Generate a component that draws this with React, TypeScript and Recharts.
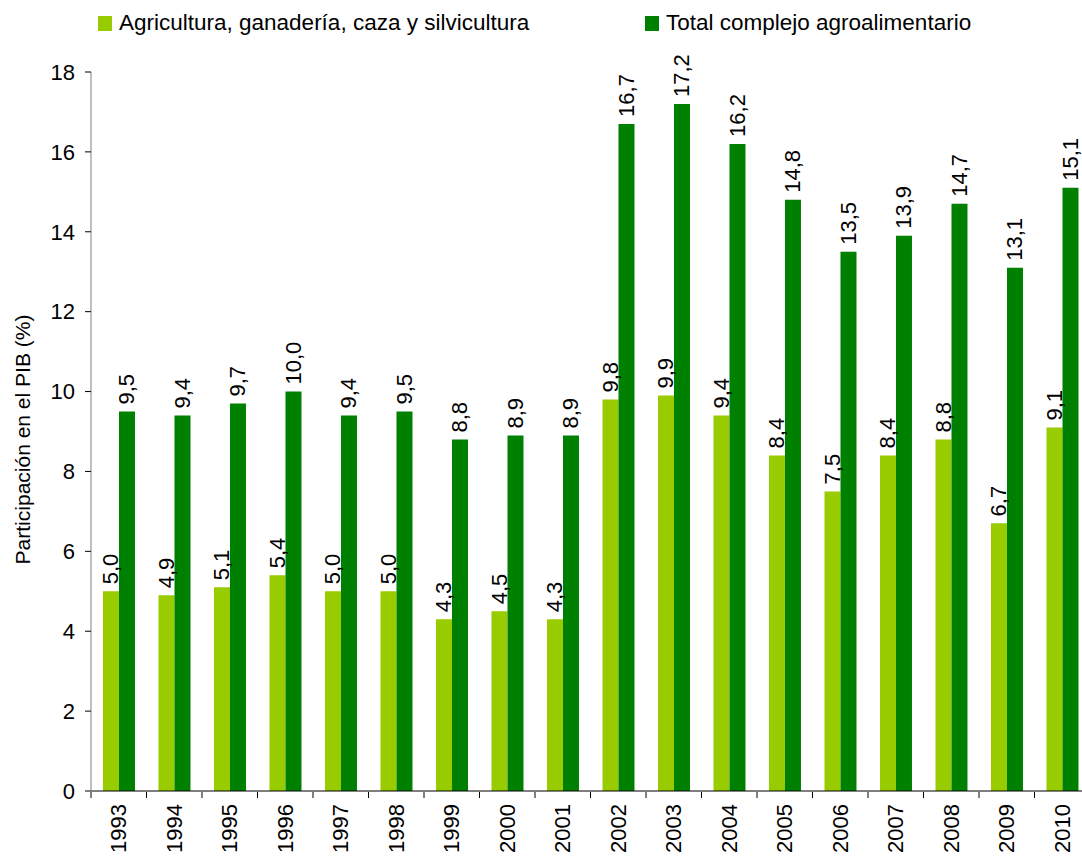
import { BarChart, Bar, XAxis, YAxis, LabelList } from "recharts";

const years = ["1993", "1994", "1995", "1996", "1997", "1998", "1999", "2000", "2001", "2002", "2003", "2004", "2005", "2006", "2007", "2008", "2009", "2010"];
const agricultura = [5.0, 4.9, 5.1, 5.4, 5.0, 5.0, 4.3, 4.5, 4.3, 9.8, 9.9, 9.4, 8.4, 7.5, 8.4, 8.8, 6.7, 9.1];
const complejo = [9.5, 9.4, 9.7, 10.0, 9.4, 9.5, 8.8, 8.9, 8.9, 16.7, 17.2, 16.2, 14.8, 13.5, 13.9, 14.7, 13.1, 15.1];
const yTicks = [0, 2, 4, 6, 8, 10, 12, 14, 16, 18];

const LIGHT = "#99CC00";
const DARK = "#008000";
const FONT = '"Liberation Sans", Arial, sans-serif';

const data = years.map((year, i) => ({ year, agri: agricultura[i], total: complejo[i] }));

const fmt = (v: number) => v.toFixed(1).replace(".", ",");

// value labels sit above each bar, rotated to read upward
const BarLabel = (props: any) => {
  const { x, y, width, value } = props;
  const cx = Number(x) + Number(width) / 2;
  const ty = Number(y) - 7;
  return (
    <text
      x={cx}
      y={ty}
      transform={`rotate(-90, ${cx}, ${ty})`}
      textAnchor="start"
      dominantBaseline="central"
      fontSize={22}
      fontFamily={FONT}
      fill="#000"
    >
      {fmt(Number(value))}
    </text>
  );
};

// year labels rotated, plus tick marks on category boundaries
const YearTick = (props: any) => {
  const { x, y, payload } = props;
  const half = payload && payload.offset ? payload.offset : 27.7;
  const ty = y + 5;
  return (
    <g>
      <line x1={x - half} x2={x - half} y1={y - 7} y2={y - 1} stroke="#000" strokeWidth={1} />
      <text
        x={x}
        y={ty}
        transform={`rotate(-90, ${x}, ${ty})`}
        textAnchor="end"
        dominantBaseline="central"
        fontSize={22}
        fontFamily={FONT}
        fill="#000"
      >
        {payload.value}
      </text>
    </g>
  );
};

const legendItems = [
  { label: "Agricultura, ganadería, caza y silvicultura", color: LIGHT, left: 98 },
  { label: "Total complejo agroalimentario", color: DARK, left: 645 },
];

export default function App() {
  return (
    <div style={{ position: "absolute", left: 0, top: 0, width: 1082, height: 857, overflow: "hidden", background: "#fff", fontFamily: FONT }}>
      {legendItems.map((item) => (
        <div key={item.label} style={{ position: "absolute", top: 10, left: item.left, height: 26, display: "flex", alignItems: "center", fontSize: 22.5, color: "#000", zIndex: 2, whiteSpace: "nowrap" }}>
          <span style={{ display: "inline-block", width: 14, height: 15, background: item.color, marginRight: 7 }} />
          {item.label}
        </div>
      ))}
      <BarChart
        width={1092}
        height={857}
        data={data}
        margin={{ top: 72, right: 2, bottom: 0, left: 0 }}
        barCategoryGap="21.6%"
        barGap={0}
      >
        <XAxis
          dataKey="year"
          height={66}
          stroke="#000"
          tickLine={false}
          tick={<YearTick />}
          interval={0}
        />
        <YAxis
          width={91}
          domain={[0, 18]}
          ticks={yTicks}
          stroke="#808080"
          tickSize={6}
          tickMargin={10}
          tick={{ fontSize: 22, fontFamily: FONT, fill: "#000" }}
          tickLine={{ stroke: "#000" }}
          label={{
            content: (p: any) => {
              const vb = p.viewBox || {};
              const cy = (vb.y || 72) + (vb.height || 719) / 2 + 8;
              return (
                <text x={22} y={cy} transform={`rotate(-90, 22, ${cy})`} textAnchor="middle" dominantBaseline="central" fontSize={21} fontFamily={FONT} fill="#000">
                  Participación en el PIB (%)
                </text>
              );
            },
          }}
        />
        <Bar dataKey="agri" fill={LIGHT} isAnimationActive={false}>
          <LabelList dataKey="agri" content={<BarLabel />} />
        </Bar>
        <Bar dataKey="total" fill={DARK} isAnimationActive={false}>
          <LabelList dataKey="total" content={<BarLabel />} />
        </Bar>
      </BarChart>
    </div>
  );
}
